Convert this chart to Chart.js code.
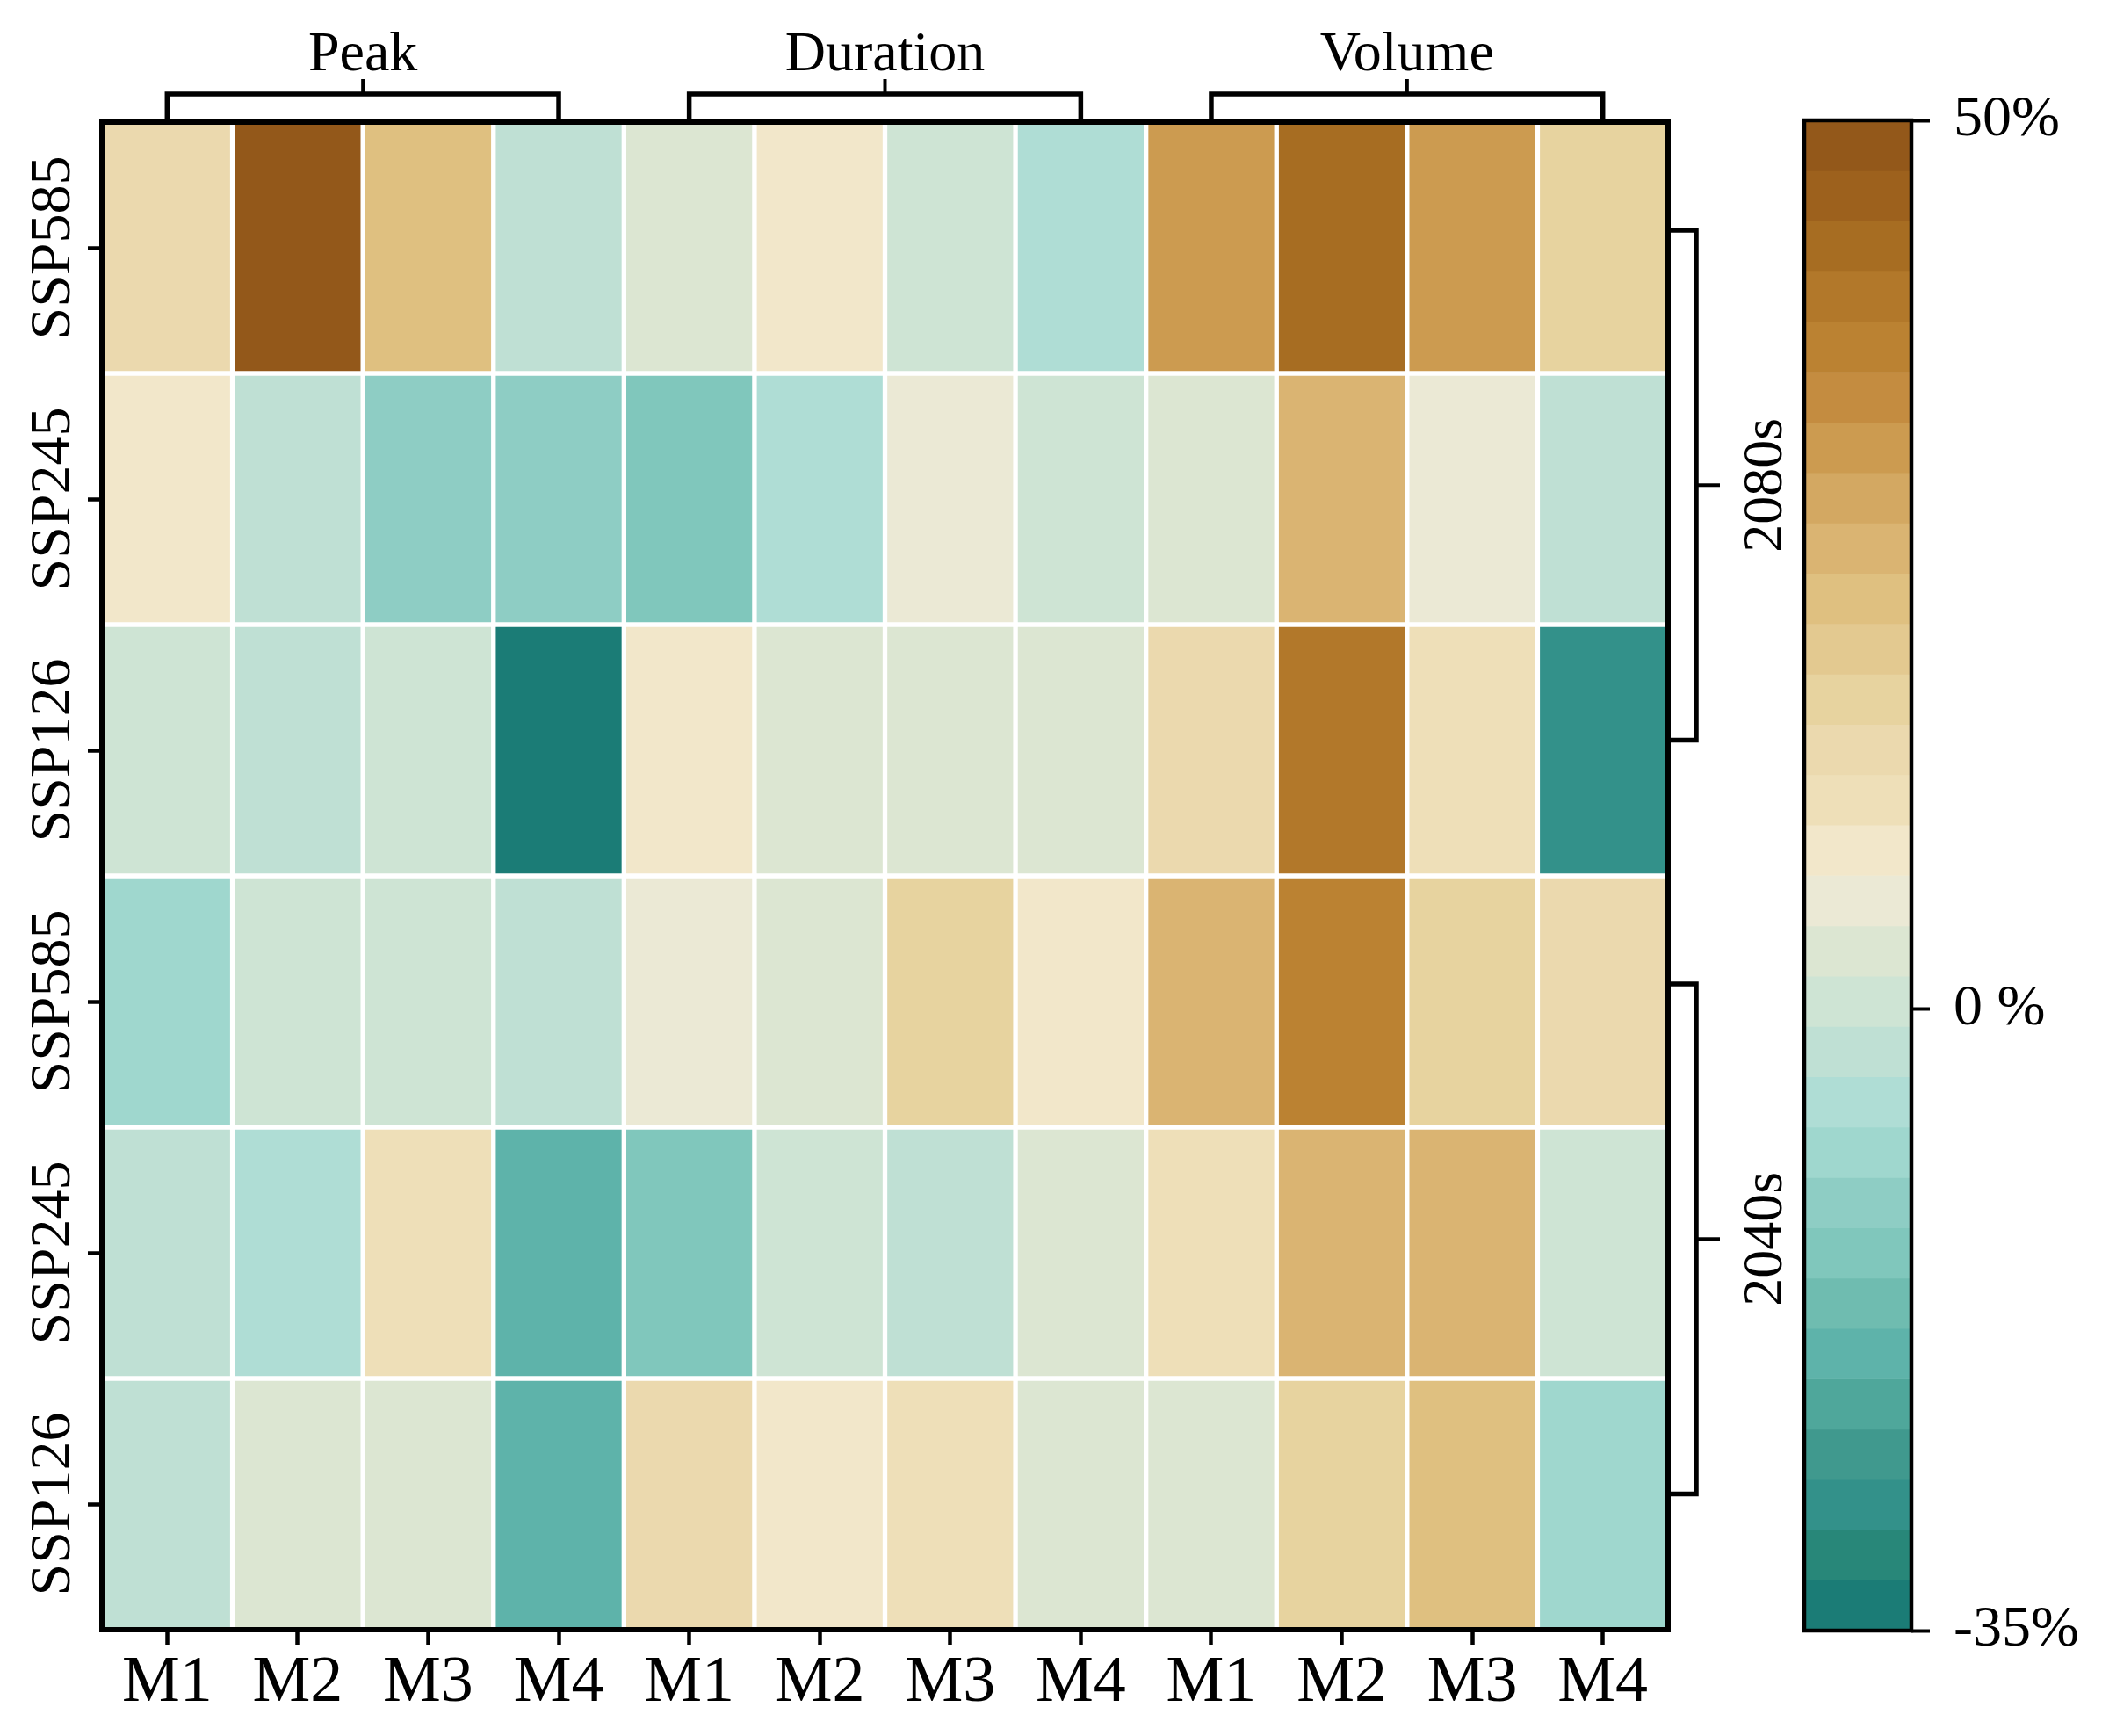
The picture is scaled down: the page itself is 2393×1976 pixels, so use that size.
<!DOCTYPE html>
<html>
<head>
<meta charset="utf-8">
<title>Heatmap</title>
<script src="https://cdn.jsdelivr.net/npm/chart.js@4.4.1/dist/chart.umd.min.js"></script>
<style>
  html, body { margin: 0; padding: 0; background: #fff; }
  #wrap { position: relative; width: 2393px; height: 1976px; }
  #heatmap { position: absolute; left: 0; top: 0; }
  #colorbar { position: absolute; left: 2000px; top: 0; }
</style>
</head>
<body>
<div id="wrap">
  <canvas id="heatmap" width="2393" height="1976"></canvas>
  <canvas id="colorbar" width="393" height="1976"></canvas>
</div>
<script>
// Rótulos dos eixos
const modelos = ['M1', 'M2', 'M3', 'M4', 'M1', 'M2', 'M3', 'M4', 'M1', 'M2', 'M3', 'M4'];
const grupos = ['Peak', 'Duration', 'Volume'];
const cenarios = ['SSP585', 'SSP245', 'SSP126', 'SSP585', 'SSP245', 'SSP126'];
const periodos = ['2080s', '2040s'];

// Variação (%) por linha: Peak M1-M4, Duration M1-M4, Volume M1-M4
const ssp585_2080 = [14.6, 48.7, 23.0, -2.5, 3.1, 8.8, 0.5, -5.1, 31.4, 42.8, 31.9, 17.2];
const ssp245_2080 = [9.1, -2.2, -10.8, -10.5, -13.6, -5.4, 6.0, 0.3, 3.4, 25.7, 5.8, -2.6];
const ssp126_2080 = [0.6, -2.4, 0.2, -33.8, 8.6, 3.0, 3.5, 2.7, 14.3, 40.0, 11.9, -27.9];
const ssp585_2040 = [-8.0, 0.8, 0.1, -2.0, 6.2, 3.6, 17.5, 9.0, 25.9, 37.3, 17.0, 14.8];
const ssp245_2040 = [-2.3, -5.6, 11.6, -19.2, -13.9, 0.7, -2.9, 3.2, 11.4, 26.0, 25.6, 0.9];
const ssp126_2040 = [-2.7, 3.8, 3.3, -19.5, 14.0, 9.2, 11.8, 3.9, 2.6, 17.3, 23.4, -8.3];
const linhas = [ssp585_2080, ssp245_2080, ssp126_2080, ssp585_2040, ssp245_2040, ssp126_2040];

// Barra de cores: 30 classes de 50% (topo) a -35% (base)
const CB_MIN = -35;
const CB_MAX = 50;
const cbarTicks = [-35, 0, 50];
const cbarLabels = ['-35%', '0 %', '50%'];
const paleta = [
  '#93581a', '#9d611d', '#a76d22', '#b2782a', '#bb8232', '#c48c40',
  '#cc9b50', '#d3a862', '#dab472', '#dfc080', '#e3c990', '#e7d39f',
  '#ebd9ae', '#eedfb8', '#f2e7ca', '#ebe9d5', '#dce6d2', '#cee4d4',
  '#bfe0d4', '#afddd5', '#9fd7ce', '#8ecdc4', '#80c7bc', '#6fbcb0',
  '#5eb3aa', '#4fa79b', '#40998e', '#33918a', '#288779', '#1b7c76'
];

const FONTE = "'Liberation Serif', 'Times New Roman', serif";
Chart.defaults.font.family = FONTE;
Chart.defaults.color = '#000';

// Converte um valor na cor da classe correspondente
function corDoValor(v) {
  const passo = (CB_MAX - CB_MIN) / paleta.length;
  let i = Math.floor((CB_MAX - v) / passo);
  i = Math.max(0, Math.min(paleta.length - 1, i));
  return paleta[i];
}

// Moldura, rótulos girados e chaves (brackets) ao redor do heatmap
const extrasHeatmap = {
  id: 'extrasHeatmap',
  afterDraw(chart) {
    const ctx = chart.ctx;
    const a = chart.chartArea;
    const xs = chart.scales.x;
    const ys = chart.scales.y;
    ctx.save();
    ctx.strokeStyle = '#000';
    ctx.fillStyle = '#000';

    // moldura
    ctx.lineWidth = 6;
    ctx.strokeRect(a.left, a.top, a.right - a.left, a.bottom - a.top);

    // rótulos do eixo y (girados)
    ctx.font = '66px ' + FONTE;
    ctx.textAlign = 'center';
    ctx.textBaseline = 'alphabetic';
    cenarios.forEach((nome, i) => {
      ctx.save();
      ctx.translate(79, ys.getPixelForValue(i + 0.5));
      ctx.rotate(-Math.PI / 2);
      ctx.fillText(nome, 0, 0);
      ctx.restore();
    });

    // chaves superiores
    ctx.lineWidth = 5.5;
    ctx.lineJoin = 'miter';
    ctx.font = '64px ' + FONTE;
    grupos.forEach((nome, g) => {
      const xa = xs.getPixelForValue(4 * g);
      const xb = xs.getPixelForValue(4 * g + 3);
      const xm = (xa + xb) / 2;
      const yb = a.top - 32;
      ctx.beginPath();
      ctx.moveTo(xa, a.top - 3);
      ctx.lineTo(xa, yb);
      ctx.lineTo(xb, yb);
      ctx.lineTo(xb, a.top - 3);
      ctx.stroke();
      ctx.lineWidth = 4;
      ctx.beginPath();
      ctx.moveTo(xm, yb);
      ctx.lineTo(xm, yb - 17);
      ctx.stroke();
      ctx.lineWidth = 5.5;
      ctx.fillText(nome, xm, a.top - 59);
    });

    // chaves da direita
    periodos.forEach((nome, p) => {
      const ya = ys.getPixelForValue(3 * p + 0.43);
      const yb = ys.getPixelForValue(3 * p + 2.46);
      const ym = (ya + yb) / 2;
      const xr = a.right + 32;
      ctx.lineWidth = 5.5;
      ctx.beginPath();
      ctx.moveTo(a.right + 3, ya);
      ctx.lineTo(xr, ya);
      ctx.lineTo(xr, yb);
      ctx.lineTo(a.right + 3, yb);
      ctx.stroke();
      ctx.lineWidth = 4;
      ctx.beginPath();
      ctx.moveTo(xr, ym);
      ctx.lineTo(xr + 27, ym);
      ctx.stroke();
      ctx.save();
      ctx.translate(a.right + 129, ym);
      ctx.rotate(-Math.PI / 2);
      ctx.fillText(nome, 0, 0);
      ctx.restore();
    });
    ctx.restore();
  }
};

const molduraCbar = {
  id: 'molduraCbar',
  afterDatasetsDraw(chart) {
    const ctx = chart.ctx;
    const a = chart.chartArea;
    ctx.save();
    ctx.strokeStyle = '#000';
    ctx.lineWidth = 4.5;
    ctx.strokeRect(a.left, a.top, a.right - a.left, a.bottom - a.top);
    ctx.restore();
  }
};

function initHeatmap() {
  const datasets = linhas.map((valores, r) => ({
    label: cenarios[r],
    data: valores.map(() => [r, r + 1]),
    backgroundColor: valores.map(corDoValor),
    borderColor: '#ffffff',
    borderWidth: 3,
    borderSkipped: false,
    grouped: false,
    barPercentage: 1,
    categoryPercentage: 1
  }));

  new Chart(document.getElementById('heatmap').getContext('2d'), {
    type: 'bar',
    data: { labels: modelos, datasets: datasets },
    options: {
      responsive: false,
      animation: false,
      devicePixelRatio: 1,
      events: [],
      layout: { padding: { top: 139, right: 494, left: 0, bottom: 0 } },
      plugins: { legend: { display: false }, tooltip: { enabled: false } },
      scales: {
        x: {
          offset: true,
          grid: { offset: false, drawOnChartArea: false, tickLength: 17, tickWidth: 4.5, tickColor: '#000' },
          border: { display: false },
          ticks: { font: { size: 74 }, color: '#000', padding: 0, maxRotation: 0, autoSkip: false },
          afterFit: (s) => { s.height = 121; }
        },
        y: {
          min: 0,
          max: 6,
          reverse: true,
          grid: { drawOnChartArea: false, tickLength: 16, tickWidth: 4.5, tickColor: '#000' },
          border: { display: false },
          ticks: { display: false },
          afterBuildTicks: (s) => { s.ticks = cenarios.map((_, i) => ({ value: i + 0.5 })); },
          afterFit: (s) => { s.width = 116; }
        }
      }
    },
    plugins: [extrasHeatmap]
  });
}

function initColorbar() {
  const faixa = (CB_MAX - CB_MIN) / paleta.length;
  const datasets = paleta.map((cor, i) => ({
    data: [[CB_MAX - (i + 1) * faixa, CB_MAX - i * faixa]],
    backgroundColor: cor,
    borderWidth: 0,
    grouped: false,
    barPercentage: 1,
    categoryPercentage: 1
  }));

  new Chart(document.getElementById('colorbar').getContext('2d'), {
    type: 'bar',
    data: { labels: [''], datasets: datasets },
    options: {
      responsive: false,
      animation: false,
      devicePixelRatio: 1,
      events: [],
      layout: { padding: { top: 137, left: 54, right: 0, bottom: 120 } },
      plugins: { legend: { display: false }, tooltip: { enabled: false } },
      scales: {
        x: { display: false },
        y: {
          position: 'right',
          min: CB_MIN,
          max: CB_MAX,
          grid: { drawOnChartArea: false, tickLength: 21, tickWidth: 4, tickColor: '#000' },
          border: { display: false },
          ticks: {
            font: { size: 66 },
            color: '#000',
            padding: 27,
            callback: (v) => cbarLabels[cbarTicks.indexOf(v)]
          },
          afterBuildTicks: (s) => { s.ticks = cbarTicks.map(v => ({ value: v })); },
          afterFit: (s) => { s.width = 217; }
        }
      }
    },
    plugins: [molduraCbar]
  });
}

initHeatmap();
initColorbar();
</script>
</body>
</html>
